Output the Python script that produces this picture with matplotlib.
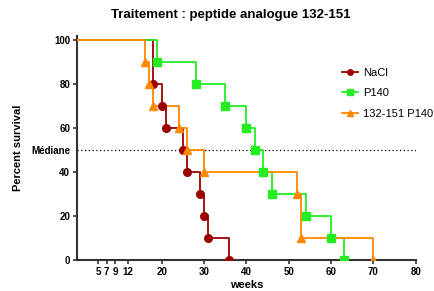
import matplotlib
matplotlib.use("Agg")
import matplotlib.pyplot as plt

# survival steps (weeks, percent survival after each event)
nacl_weeks = [0, 18, 20, 21, 25, 26, 29, 30, 31, 36]
nacl_surv = [100, 80, 70, 60, 50, 40, 30, 20, 10, 0]

p140_weeks = [0, 19, 28, 35, 40, 42, 44, 46, 54, 60, 63]
p140_surv = [100, 90, 80, 70, 60, 50, 40, 30, 20, 10, 0]

pep_weeks = [0, 16, 17, 18, 24, 26, 30, 52, 53, 70]
pep_surv = [100, 90, 80, 70, 60, 50, 40, 30, 10, 0]

x_ticks = [5, 7, 9, 12, 20, 30, 40, 50, 60, 70, 80]
y_ticks = [0, 20, 40, 50, 60, 80, 100]
y_labels = ["0", "20", "40", "Médiane", "60", "80", "100"]

plt.rcParams["font.family"] = ["Liberation Sans", "DejaVu Sans"]
plt.rcParams["font.weight"] = "bold"

fig = plt.figure(figsize=(4.34, 2.91), dpi=100)
ax = fig.add_axes([0.1774, 0.1065, 0.7806, 0.771])

series = [
    (nacl_weeks, nacl_surv, "#9b0000", "o", "NaCl"),
    (p140_weeks, p140_surv, "#22ee22", "s", "P140"),
    (pep_weeks, pep_surv, "#ff8800", "^", "132-151 P140"),
]
for wk, sv, col, mk, lab in series:
    ax.step(wk, sv, where="post", color=col, linewidth=1.3, zorder=3)
    ax.plot(wk[1:], sv[1:], linestyle="none", marker=mk, color=col,
            markersize=5.5, zorder=4)
    ax.plot([], [], color=col, marker=mk, markersize=4, linewidth=1.3, label=lab)

ax.axhline(50, color="black", linestyle=(0, (1, 2)), linewidth=0.9, zorder=1)

ax.set_xlim(0, 80)
ax.set_ylim(0, 102)
ax.set_xticks(x_ticks)
ax.set_xticklabels([str(t) for t in x_ticks], fontsize=7, fontweight="bold")
ax.set_yticks(y_ticks)
ax.set_yticklabels(y_labels, fontsize=7, fontweight="bold")
for tk in ax.yaxis.get_major_ticks():
    if tk.get_loc() == 50:
        tk.tick1line.set_visible(False)

for s in ["top", "right"]:
    ax.spines[s].set_visible(False)
for s in ["left", "bottom"]:
    ax.spines[s].set_linewidth(1.5)
    ax.spines[s].set_color("#333333")
ax.tick_params(direction="out", length=3, width=1.2, color="#333333", pad=2)

ax.set_xlabel("weeks", fontsize=8, fontweight="bold", labelpad=2)
ax.set_ylabel("Percent survival", fontsize=8, fontweight="bold", labelpad=6)
fig.text(0.532, 0.948, "Traitement : peptide analogue 132-151", ha="center",
         va="center", fontsize=9.5, fontweight="bold")

leg = fig.legend(loc="upper left", bbox_to_anchor=(0.788, 0.768), frameon=False,
                 fontsize=8, handlelength=1.4, labelspacing=0.95,
                 handletextpad=0.5, borderpad=0, borderaxespad=0)
for t in leg.get_texts():
    t.set_fontweight("normal")

fig.savefig("out.png", dpi=100)
